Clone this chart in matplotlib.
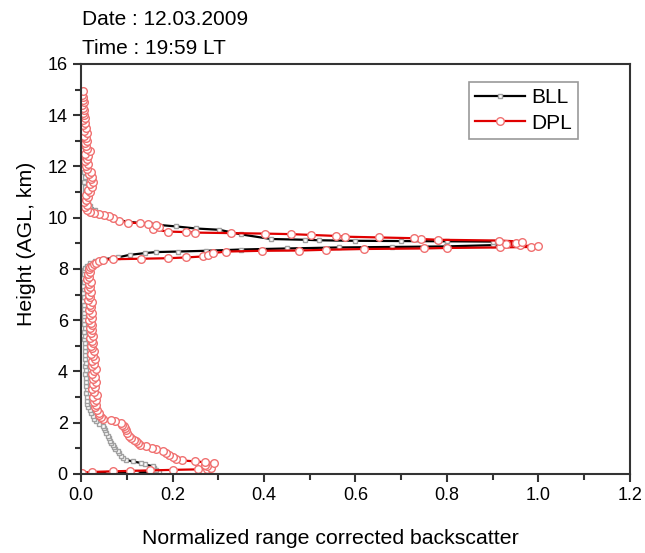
import matplotlib
matplotlib.use("Agg")
import matplotlib.pyplot as plt
from matplotlib.ticker import MultipleLocator, FormatStrFormatter

plt.rcParams['font.family'] = ['Liberation Sans', 'DejaVu Sans']

# DPL profile: height (km) and normalized backscatter
dpl_h = [0.05, 0.08, 0.10, 0.12, 0.14, 0.16, 0.18, 0.21, 0.25, 0.30, 0.36, 0.42, 0.46, 0.49,
         0.53, 0.58, 0.66, 0.75, 0.83, 0.90, 0.96, 1.02, 1.08, 1.15, 1.22, 1.27, 1.34, 1.41,
         1.50, 1.60, 1.70, 1.78, 1.86, 1.93, 2.00, 2.05, 2.10, 2.15, 2.22, 2.30, 2.39, 2.48,
         2.6, 2.7, 2.8, 2.9, 3.0, 3.1, 3.2, 3.3, 3.4, 3.5, 3.6, 3.7, 3.8, 3.9, 4.0, 4.1, 4.2,
         4.3, 4.4, 4.5, 4.6, 4.7, 4.8, 4.9, 5.0, 5.1, 5.2, 5.3, 5.4, 5.5, 5.6, 5.7, 5.8, 5.9,
         6.0, 6.1, 6.2, 6.3, 6.4, 6.5, 6.6, 6.7, 6.8, 6.9, 7.0, 7.1, 7.2, 7.3, 7.4, 7.5, 7.6,
         7.7, 7.8, 7.9, 8.0, 8.06, 8.12, 8.20, 8.25, 8.31,
         8.36, 8.38, 8.40, 8.42, 8.45, 8.49, 8.56, 8.62, 8.68, 8.71, 8.72, 8.75, 8.78, 8.80,
         8.82, 8.84, 8.86, 8.88, 8.92, 8.97, 9.02, 9.07, 9.11, 9.14, 9.17, 9.20, 9.23, 9.26,
         9.29, 9.33, 9.36, 9.38, 9.40, 9.42, 9.44, 9.46, 9.55, 9.62, 9.72, 9.75, 9.79, 9.81,
         9.89, 9.97, 10.05, 10.10, 10.15, 10.20, 10.24, 10.30, 10.4, 10.5, 10.6, 10.7, 10.8,
         10.9, 11.0, 11.1, 11.2, 11.3, 11.4, 11.5, 11.6, 11.7, 11.8, 11.9, 12.0, 12.1, 12.2,
         12.3, 12.4, 12.5, 12.6, 12.7, 12.8, 12.9, 13.0, 13.1, 13.2, 13.3, 13.4, 13.5, 13.6,
         13.7, 13.8, 13.9, 14.0, 14.1, 14.2, 14.3, 14.4, 14.5, 14.6, 14.7, 14.8, 14.95]
dpl_v = [0.003, 0.023, 0.069, 0.106, 0.150, 0.200, 0.255, 0.276, 0.285, 0.275, 0.270, 0.290, 0.270, 0.250,
         0.220, 0.208, 0.200, 0.193, 0.185, 0.180, 0.165, 0.155, 0.142, 0.130, 0.125, 0.120, 0.115, 0.109,
         0.104, 0.100, 0.098, 0.097, 0.095, 0.090, 0.087, 0.075, 0.066, 0.047, 0.043, 0.040, 0.040, 0.035,
         0.030, 0.033, 0.028, 0.032, 0.027, 0.034, 0.029, 0.025, 0.031, 0.027, 0.033, 0.026, 0.030, 0.024,
         0.029, 0.032, 0.025, 0.028, 0.023, 0.030, 0.026, 0.022, 0.028, 0.025, 0.021, 0.027, 0.024, 0.020,
         0.026, 0.022, 0.025, 0.019, 0.024, 0.021, 0.018, 0.023, 0.020, 0.024, 0.017, 0.021, 0.019, 0.023,
         0.016, 0.020, 0.018, 0.022, 0.015, 0.019, 0.017, 0.021, 0.014, 0.018, 0.016, 0.020, 0.017,
         0.020, 0.024, 0.028, 0.033, 0.040,
         0.048, 0.069, 0.131, 0.190, 0.230, 0.267, 0.277, 0.288, 0.317, 0.396, 0.477, 0.535, 0.619, 0.750,
         0.800, 0.916, 0.984, 1.000, 0.960, 0.930, 0.950, 0.963, 0.914, 0.781, 0.743, 0.728, 0.652, 0.578,
         0.557, 0.503, 0.459, 0.403, 0.328, 0.250, 0.230, 0.190, 0.157, 0.170, 0.165, 0.146, 0.128, 0.102,
         0.084, 0.070, 0.062, 0.050, 0.040, 0.028, 0.019, 0.012, 0.008, 0.013, 0.006, 0.011, 0.016,
         0.010, 0.020, 0.015, 0.024, 0.019, 0.026, 0.021, 0.025, 0.017, 0.022, 0.013, 0.010, 0.015, 0.008,
         0.012, 0.016, 0.009, 0.019, 0.013, 0.011, 0.008, 0.014, 0.010, 0.007, 0.012, 0.006, 0.010, 0.005,
         0.009, 0.004, 0.008, 0.006, 0.004, 0.007, 0.005, 0.003, 0.006, 0.004, 0.005, 0.003, 0.004]

# BLL profile
bll_h = [0.02, 0.04, 0.06, 0.08, 0.14, 0.22, 0.30, 0.37, 0.43, 0.49, 0.55, 0.62, 0.70, 0.80,
         0.88, 0.98, 1.06, 1.14, 1.22, 1.30, 1.40, 1.50, 1.60, 1.70, 1.78, 1.86, 1.95, 2.05,
         2.15, 2.25, 2.38, 2.50, 2.62, 2.74, 2.86, 3.00, 3.15, 3.30, 3.45, 3.60, 3.75, 3.90,
         4.05, 4.20, 4.35, 4.50, 4.65, 4.80, 4.95, 5.10, 5.25, 5.40, 5.55, 5.70, 5.85, 6.00,
         6.15, 6.30, 6.45, 6.60, 6.75, 6.90, 7.05, 7.20, 7.35, 7.50, 7.65, 7.80, 7.95, 8.05,
         8.12, 8.22, 8.30, 8.38, 8.45, 8.55, 8.62, 8.66, 8.68, 8.71, 8.76, 8.80, 8.84, 8.86,
         8.88, 8.93, 8.97, 9.02, 9.07, 9.08, 9.09, 9.10, 9.12, 9.14, 9.17, 9.35, 9.53, 9.58,
         9.66, 9.75, 9.85, 9.95, 10.10, 10.30, 10.45, 10.60, 10.80, 11.00, 11.20, 11.40,
         11.60, 11.80, 12.00, 12.20, 12.40, 12.60, 12.80, 13.00, 13.20, 13.40, 13.60, 13.80,
         14.00, 14.20, 14.40, 14.60]
bll_v = [0.002, 0.060, 0.120, 0.171, 0.165, 0.160, 0.157, 0.140, 0.131, 0.113, 0.098, 0.091, 0.087, 0.083,
         0.080, 0.075, 0.072, 0.069, 0.066, 0.064, 0.062, 0.058, 0.055, 0.052, 0.050, 0.048, 0.040, 0.033,
         0.029, 0.026, 0.022, 0.019, 0.016, 0.014, 0.013, 0.012, 0.011, 0.012, 0.010, 0.011, 0.010, 0.009,
         0.010, 0.009, 0.010, 0.008, 0.009, 0.008, 0.009, 0.008, 0.007, 0.008, 0.007, 0.008, 0.007, 0.006,
         0.007, 0.006, 0.007, 0.006, 0.005, 0.006, 0.005, 0.006, 0.005, 0.006, 0.005, 0.006, 0.007, 0.008,
         0.012, 0.020, 0.030, 0.050, 0.080, 0.106, 0.140, 0.164, 0.211, 0.273, 0.350, 0.450, 0.564, 0.680,
         0.797, 0.900, 0.950, 0.930, 0.900, 0.800, 0.700, 0.600, 0.520, 0.490, 0.415, 0.350, 0.302, 0.251,
         0.208, 0.150, 0.100, 0.070, 0.045, 0.030, 0.020, 0.015, 0.010, 0.008, 0.009, 0.007,
         0.008, 0.006, 0.010, 0.007, 0.006, 0.008, 0.005, 0.006, 0.005, 0.006, 0.005, 0.004,
         0.005, 0.004, 0.005, 0.004]

series_names = ["BLL", "DPL"]
title_lines = ["Date : 12.03.2009", "Time : 19:59 LT"]
x_label = "Normalized range corrected backscatter"
y_label = "Height (AGL, km)"

fig = plt.figure(figsize=(6.45, 5.53), dpi=100)
ax = fig.add_axes([0.1256, 0.1429, 0.8511, 0.7414])

ax.plot(bll_v, bll_h, color='black', lw=1.6, marker='s', ms=3.2, mfc='white',
        mec='#a0a0a0', mew=1.0, label=series_names[0])
ax.plot(dpl_v, dpl_h, color='#e00000', lw=1.6, marker='o', ms=5.5, mfc='white',
        mec='#f07070', mew=1.0, label=series_names[1])

ax.set_xlim(0, 1.2)
ax.set_ylim(0, 16)
ax.xaxis.set_major_locator(MultipleLocator(0.2))
ax.xaxis.set_minor_locator(MultipleLocator(0.1))
ax.yaxis.set_major_locator(MultipleLocator(2))
ax.yaxis.set_minor_locator(MultipleLocator(1))
ax.xaxis.set_major_formatter(FormatStrFormatter('%.1f'))
ax.tick_params(which='both', direction='out', top=False, right=False, color='#333333',
               labelsize=13, width=1.5)
ax.tick_params(which='major', length=6)
ax.tick_params(which='minor', length=4)
for s in ax.spines.values():
    s.set_color('#333333')
    s.set_linewidth(1.5)

ax.set_xlabel(x_label, fontsize=15.3)
ax.xaxis.set_label_coords(0.4536, -0.133)
ax.set_ylabel(y_label, fontsize=15.3)
ax.yaxis.set_label_coords(-0.082, 0.561)

leg = ax.legend(loc='upper right', bbox_to_anchor=(0.906, 0.956), borderaxespad=0,
                fontsize=15, frameon=True, fancybox=False, edgecolor='#808080',
                handlelength=2.4, borderpad=0.3, labelspacing=0.3, handletextpad=0.3)
leg.get_frame().set_linewidth(1.2)

fig.text(0.127, 0.965, title_lines[0], fontsize=15, va='center', ha='left')
fig.text(0.127, 0.913, title_lines[1], fontsize=15, va='center', ha='left')

fig.savefig("out.png", dpi=100)
